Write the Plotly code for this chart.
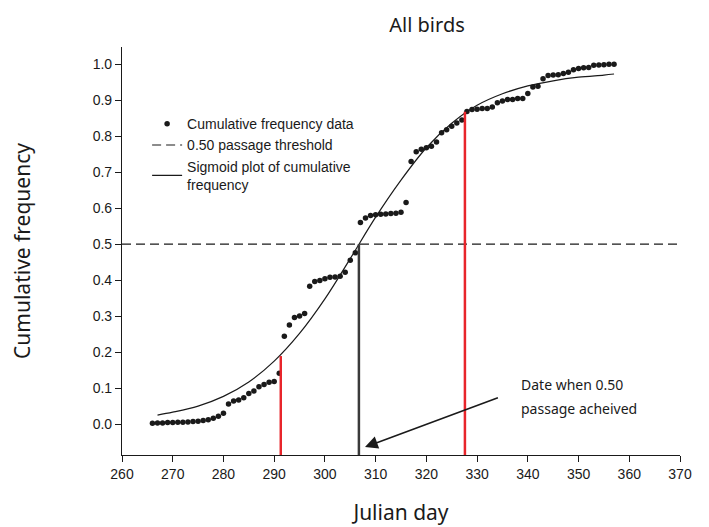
import plotly.graph_objects as go

# ---- data ----
days = list(range(266, 358))
cum_freq = [
    0.002, 0.003, 0.003, 0.004, 0.004, 0.005, 0.005, 0.006, 0.007, 0.008,   # 266-275
    0.010, 0.012, 0.016, 0.022, 0.030, 0.056, 0.064, 0.067, 0.073, 0.085,   # 276-285
    0.092, 0.104, 0.110, 0.116, 0.118, 0.141, 0.244, 0.275, 0.296, 0.300,   # 286-295
    0.307, 0.383, 0.396, 0.399, 0.404, 0.408, 0.409, 0.411, 0.422, 0.455,   # 296-305
    0.476, 0.560, 0.573, 0.580, 0.582, 0.583, 0.584, 0.585, 0.586, 0.589,   # 306-315
    0.616, 0.730, 0.757, 0.764, 0.768, 0.772, 0.784, 0.810, 0.818, 0.828,   # 316-325
    0.837, 0.845, 0.869, 0.874, 0.875, 0.877, 0.877, 0.881, 0.893, 0.898,   # 326-335
    0.902, 0.902, 0.905, 0.905, 0.919, 0.937, 0.939, 0.960, 0.969, 0.970,   # 336-345
    0.971, 0.974, 0.978, 0.985, 0.988, 0.990, 0.991, 0.997, 0.998, 0.999,   # 346-355
    1.000, 1.000,                                                           # 356-357
]

sig_days = [267, 270, 275, 280, 285, 290, 295, 300, 305, 310, 315,
            320, 325, 330, 335, 340, 345, 350, 355, 357]
sig_vals = [0.025, 0.033, 0.050, 0.077, 0.117, 0.175, 0.252, 0.348, 0.460, 0.575,
            0.678, 0.768, 0.836, 0.886, 0.918, 0.940, 0.954, 0.964, 0.970, 0.973]

threshold = 0.5
threshold_x = [260, 370]
passage_day = 306.7
lower_day, lower_val = 291.3, 0.189
upper_day, upper_val = 327.6, 0.868

x_range = [260, 370]
y_range = [-0.086, 1.048]
y_ticks = [round(i * 0.1, 1) for i in range(11)]
x_ticks = list(range(260, 371, 10))

arrow_tail = (334.4, 0.075)
arrow_head = (307.9, -0.064)

# ---- figure ----
fig = go.Figure()

fig.add_trace(go.Scatter(
    x=days, y=cum_freq, mode="markers",
    marker=dict(size=5.5, color="#1a1a1a"),
    name="Cumulative frequency data",
))
fig.add_trace(go.Scatter(
    x=threshold_x, y=[threshold, threshold], mode="lines",
    line=dict(color="#1a1a1a", width=1.2, dash="9px,5px"),
    name="0.50 passage threshold",
))
fig.add_trace(go.Scatter(
    x=sig_days, y=sig_vals, mode="lines", line_shape="spline",
    line=dict(color="#1a1a1a", width=1.2),
    name="Sigmoid plot of cumulative<br>frequency",
))
# vertical markers
fig.add_trace(go.Scatter(
    x=[lower_day, lower_day], y=[y_range[0], lower_val], mode="lines",
    line=dict(color="#e8252b", width=2.5), showlegend=False, hoverinfo="skip",
))
fig.add_trace(go.Scatter(
    x=[upper_day, upper_day], y=[y_range[0], upper_val], mode="lines",
    line=dict(color="#e8252b", width=2.5), showlegend=False, hoverinfo="skip",
))
fig.add_trace(go.Scatter(
    x=[passage_day, passage_day], y=[y_range[0], threshold], mode="lines",
    line=dict(color="#3a3a3a", width=2.5), showlegend=False, hoverinfo="skip",
))

fig.add_annotation(
    x=arrow_head[0], y=arrow_head[1], ax=arrow_tail[0], ay=arrow_tail[1],
    xref="x", yref="y", axref="x", ayref="y",
    text="", showarrow=True, arrowhead=2, arrowsize=1.6, arrowwidth=1.6,
    arrowcolor="#1a1a1a",
)
note_font = dict(family="Noto Sans", size=14, color="#1a1a1a")
fig.add_annotation(
    x=0.711, y=0.1716, xref="paper", yref="paper", xanchor="left", yanchor="middle",
    text="Date when 0.50", showarrow=False, font=note_font,
)
fig.add_annotation(
    x=0.711, y=0.115, xref="paper", yref="paper", xanchor="left", yanchor="middle",
    text="passage acheived", showarrow=False, font=note_font,
)

fig.update_layout(
    width=709, height=527,
    margin=dict(l=107, r=37, t=39, b=80),
    paper_bgcolor="white", plot_bgcolor="white",
    title=dict(text="All birds", x=0.591, xanchor="center", y=0.968, yanchor="middle",
               font=dict(family="Noto Sans", size=20, color="#1a1a1a")),
    font=dict(family="Liberation Sans, Arial", size=14, color="#1a1a1a"),
    showlegend=True,
    legend=dict(x=0.045, y=0.85, xanchor="left", yanchor="top",
                bgcolor="rgba(0,0,0,0)", font=dict(size=14),
                tracegroupgap=0, itemwidth=30),
    xaxis=dict(range=x_range, tickvals=x_ticks, ticks="outside", ticklen=6,
               showline=True, linecolor="#1a1a1a", linewidth=1.2,
               tickcolor="#1a1a1a", showgrid=False, zeroline=False,
               title=dict(text="Julian day", standoff=24,
                          font=dict(family="Noto Sans", size=21))),
    yaxis=dict(range=y_range, tickvals=y_ticks, tickformat=".1f", ticks="outside",
               ticklen=6, showline=True, linecolor="#1a1a1a", linewidth=1.2,
               tickcolor="#1a1a1a", showgrid=False, zeroline=False,
               title=dict(text="Cumulative frequency", standoff=58,
                          font=dict(family="Noto Sans", size=21))),
)

fig.write_html("out.html")
